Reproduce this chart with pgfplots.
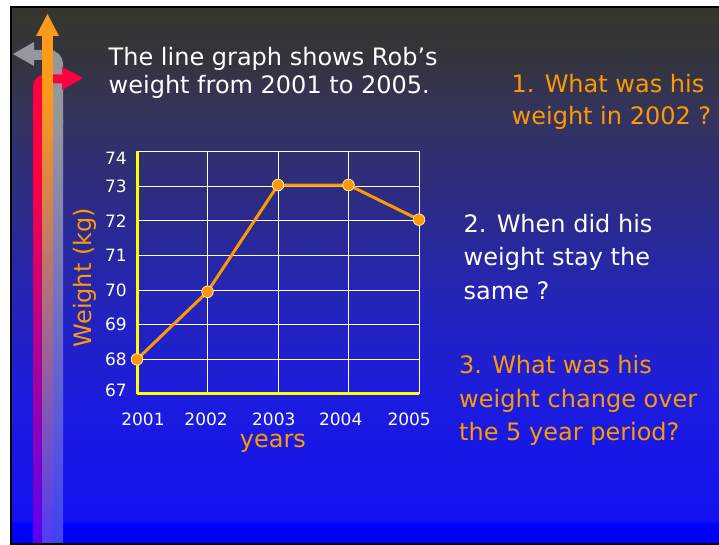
\documentclass[border=0pt]{standalone}
\usepackage{pgfplots}
\pgfplotsset{compat=1.18}
\usepackage{fontspec}
\setmainfont{DejaVu Sans}

\definecolor{bgA}{RGB}{54,54,46}
\definecolor{bgB}{RGB}{52,52,62}
\definecolor{bgC}{RGB}{52,52,92}
\definecolor{bgD}{RGB}{48,48,110}
\definecolor{bgE}{RGB}{44,44,132}
\definecolor{bgF}{RGB}{36,36,185}
\definecolor{bgG}{RGB}{28,28,222}
\definecolor{bgH}{RGB}{18,18,242}
\definecolor{bgI}{RGB}{0,0,255}
\definecolor{txtorange}{RGB}{255,153,0}
\definecolor{lineorange}{RGB}{255,153,0}
\definecolor{axyellow}{RGB}{255,255,0}
\definecolor{redA}{RGB}{255,0,64}
\definecolor{redM}{RGB}{165,0,205}
\definecolor{redB}{RGB}{90,0,240}
\definecolor{orA}{RGB}{255,153,25}
\definecolor{orM}{RGB}{185,112,190}
\definecolor{orB}{RGB}{80,60,245}
\definecolor{grA}{RGB}{150,150,158}
\definecolor{grM}{RGB}{110,110,210}
\definecolor{grB}{RGB}{65,65,245}

\pgfdeclareverticalshading{slidebg}{100bp}{color(0bp)=(bgI); color(25bp)=(bgI); color(26.68bp)=(bgI); color(27.15bp)=(bgH); color(38.36bp)=(bgG); color(47.71bp)=(bgF); color(57.06bp)=(bgE); color(61.73bp)=(bgD); color(65.47bp)=(bgC); color(70.14bp)=(bgB); color(75bp)=(bgA); color(100bp)=(bgA)}

\begin{document}
\begin{tikzpicture}[x=1pt,y=1pt]
\useasboundingbox (0,0) rectangle (719,545);
\fill[white] (0,0) rectangle (719,545);
\fill[black] (10,0) rectangle (719,538.5);
\shade[shading=slidebg] (12,2.5) rectangle (719,536.5);

% decorative arrows
% gray
\shade[top color=grA, middle color=grM, bottom color=grB] (53,2.5) rectangle (63,425);
\draw[grA, line width=10pt, rounded corners=9pt] (58,420) -- (58,490) -- (33,490);
\fill[grA] (13,491) -- (34,503) -- (34,479) -- cycle;
% red
\shade[top color=redA, middle color=redM, bottom color=redB] (33,2.5) rectangle (42,365);
\draw[redA, line width=9pt, rounded corners=8pt] (37.5,360) -- (37.5,466) -- (63,466);
\fill[redA] (83,467) -- (62,478) -- (62,455) -- cycle;
% orange
\shade[top color=orA, middle color=orM, bottom color=orB] (42,2.5) rectangle (53,455);
\fill[orA] (42,450) rectangle (53,510);
\fill[orA] (47.5,531) -- (36,509) -- (59,509) -- cycle;

% texts
\begin{scope}[every node/.style={anchor=base west, inner sep=0pt}]
\node[text=white, font=\fontsize{24}{28}\selectfont] at (108.5,479) {The line graph shows Rob’s};
\node[text=white, font=\fontsize{24}{28}\selectfont] at (108.5,451) {weight from 2001 to 2005.};
\node[text=txtorange, font=\fontsize{24}{28}\selectfont] at (511.5,452) {1. What was his};
\node[text=txtorange, font=\fontsize{24}{28}\selectfont] at (511.5,420) {weight in 2002 ?};
\node[text=white, font=\fontsize{24}{28}\selectfont] at (463.5,312) {2. When did his};
\node[text=white, font=\fontsize{24}{28}\selectfont] at (463.5,279) {weight stay the};
\node[text=white, font=\fontsize{24}{28}\selectfont] at (463.5,245) {same ?};
\node[text=txtorange, font=\fontsize{24}{28}\selectfont] at (459,171) {3. What was his};
\node[text=txtorange, font=\fontsize{24}{28}\selectfont] at (459,137) {weight change over};
\node[text=txtorange, font=\fontsize{24}{28}\selectfont] at (459,104) {the 5 year period?};
\end{scope}

\begin{axis}[
  at={(137pt,151pt)}, anchor=south west,
  scale only axis, width=282pt, height=242.6pt,
  xmin=2001, xmax=2005, ymin=67, ymax=74,
  xtick={2001,2002,2003,2004,2005}, ytick={67,68,69,70,71,72,73,74},
  xticklabels={,,,,}, yticklabels={,,,,,,,},
  grid=major, major grid style={white, line width=1pt},
  axis x line*=bottom, axis y line*=left,
  axis line style={draw=axyellow, line width=3pt, -},
  tick style={draw=none},
  extra x ticks={2001.085,2001.98,2002.94,2003.89,2004.86},
  extra x tick labels={2001,2002,2003,2004,2005},
  extra x tick style={grid=none, tick style={draw=none},
    xticklabel style={anchor=north, inner sep=0pt, yshift=-19pt, text=white, font=\fontsize{17}{19}\selectfont}},
  extra y ticks={67.1,68,69,70,71,72,73,73.8},
  extra y tick labels={67,68,69,70,71,72,73,74},
  extra y tick style={grid=none, tick style={draw=none},
    yticklabel style={anchor=east, inner sep=0pt, xshift=-10pt, text=white, font=\fontsize{17}{19}\selectfont}},
  xlabel={years},
  xlabel style={at={(axis description cs:0.482,-0.2226)}, anchor=base, inner sep=0pt, text=txtorange, font=\fontsize{24}{28}\selectfont},
  ylabel={Weight (kg)},
  ylabel style={at={(axis description cs:-0.1596,0.48)}, anchor=base, inner sep=0pt, text=txtorange, font=\fontsize{24}{28}\selectfont},
  clip=false,
]
\addplot[color=lineorange, line width=3pt, mark=*, mark size=5.8pt,
  mark options={fill=lineorange, draw=white!75!lineorange, line width=0.8pt}]
  coordinates {(2001,68) (2002,69.95) (2003,73.03) (2004,73.03) (2005,72.03)};
\end{axis}
\end{tikzpicture}
\end{document}
